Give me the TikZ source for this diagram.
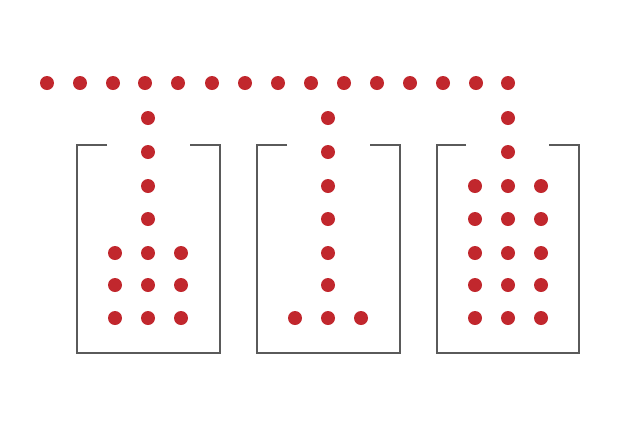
\documentclass[tikz,border=0pt]{standalone}
\definecolor{dotred}{HTML}{C1272D}
\definecolor{boxgray}{HTML}{5A5A5A}
\tikzset{
  dotnode/.style={circle,fill=dotred,draw=none,minimum size=10.5pt,inner sep=0pt},
  boxline/.style={draw=boxgray,line width=0.9pt}
}
\begin{document}
\begin{tikzpicture}[x=0.75pt,y=-0.75pt]
\useasboundingbox (0,0) rectangle (618,430);
% top row
\foreach \x [count=\i] in {47,80,113,145,178,212,245,278,311,344,377,410,443,476,508}
  \node[dotnode] (t\i) at (\x,83) {};
% boxes
\foreach \a/\b/\c/\d [count=\k] in {77/107/190/220, 257/287/370/400, 437/466/549/579}{
  \draw[boxline] (\b,145) -- (\a,145) -- (\a,353) -- (\d,353) -- (\d,145) -- (\c,145);
}
% box 1
\foreach \y [count=\i] in {118,152,186,219,253,285,318}
  \node[dotnode] (a\i) at (148,\y) {};
\foreach \y [count=\i] in {253,285,318}{
  \node[dotnode] (al\i) at (115,\y) {};
  \node[dotnode] (ar\i) at (181,\y) {};
}
% box 2
\foreach \y [count=\i] in {118,152,186,219,253,285,318}
  \node[dotnode] (b\i) at (328,\y) {};
\node[dotnode] (bl) at (295,318) {};
\node[dotnode] (br) at (361,318) {};
% box 3
\foreach \y [count=\i] in {118,152,186,219,253,285,318}
  \node[dotnode] (c\i) at (508,\y) {};
\foreach \y [count=\i] in {186,219,253,285,318}{
  \node[dotnode] (cl\i) at (475,\y) {};
  \node[dotnode] (cr\i) at (541,\y) {};
}
\end{tikzpicture}
\end{document}
